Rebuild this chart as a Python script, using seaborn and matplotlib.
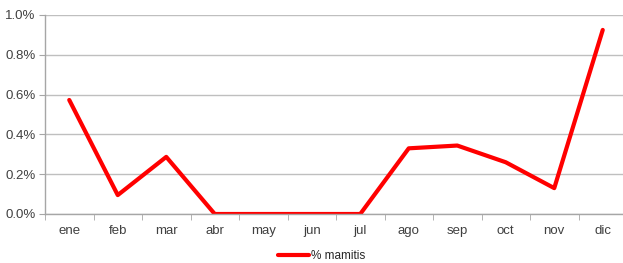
import matplotlib
matplotlib.use("Agg")
import matplotlib.pyplot as plt
import seaborn as sns
import pandas as pd
from matplotlib.ticker import FuncFormatter, FixedLocator

months = ["ene", "feb", "mar", "abr", "may", "jun", "jul", "ago", "sep", "oct", "nov", "dic"]
mamitis = [0.573, 0.095, 0.287, 0.0, 0.0, 0.0, 0.0, 0.330, 0.344, 0.260, 0.130, 0.925]
yticks = [0.0, 0.2, 0.4, 0.6, 0.8, 1.0]

sns.set_style("white")
plt.rcParams['font.family'] = ['Liberation Sans', 'DejaVu Sans']

df = pd.DataFrame({"mes": months, "% mamitis": mamitis})

fig = plt.figure(figsize=(6.23, 2.63), dpi=100)
ax = fig.add_axes([45/623, 49/263, 582/623, 199/263])

sns.lineplot(data=df, x="mes", y="% mamitis", ax=ax, color="#ff0000",
             linewidth=3, label="% mamitis", sort=False)

ax.set_xlim(-0.5, len(months) - 0.5)
ax.set_ylim(0, 1.0)
ax.set_yticks(yticks)
ax.yaxis.set_major_formatter(FuncFormatter(lambda v, p: f"{v:.1f}%"))
ax.grid(axis="y", color="#bfbfbf", linewidth=1)
ax.set_axisbelow(True)
ax.set_xlabel("")
ax.set_ylabel("")

for s in ["top", "right"]:
    ax.spines[s].set_visible(False)
for s in ["left", "bottom"]:
    ax.spines[s].set_color("#a6a6a6")
    ax.spines[s].set_linewidth(1)

ax.xaxis.set_minor_locator(FixedLocator([i - 0.5 for i in range(len(months) + 1)]))
ax.tick_params(axis="x", which="major", length=0, labelsize=9.5, colors="#404040", pad=8)
ax.tick_params(axis="x", which="minor", length=4, color="#a6a6a6", direction="out", bottom=True)
ax.tick_params(axis="y", which="major", length=4, labelsize=9.5, labelcolor="#404040",
               color="#a6a6a6", left=True, pad=3)

leg = ax.legend(loc="center", bbox_to_anchor=(322/623, 7/263), bbox_transform=fig.transFigure,
                frameon=False, fontsize=8.5, handlelength=2.6, handletextpad=0.2)

fig.savefig("out.png", dpi=100)
